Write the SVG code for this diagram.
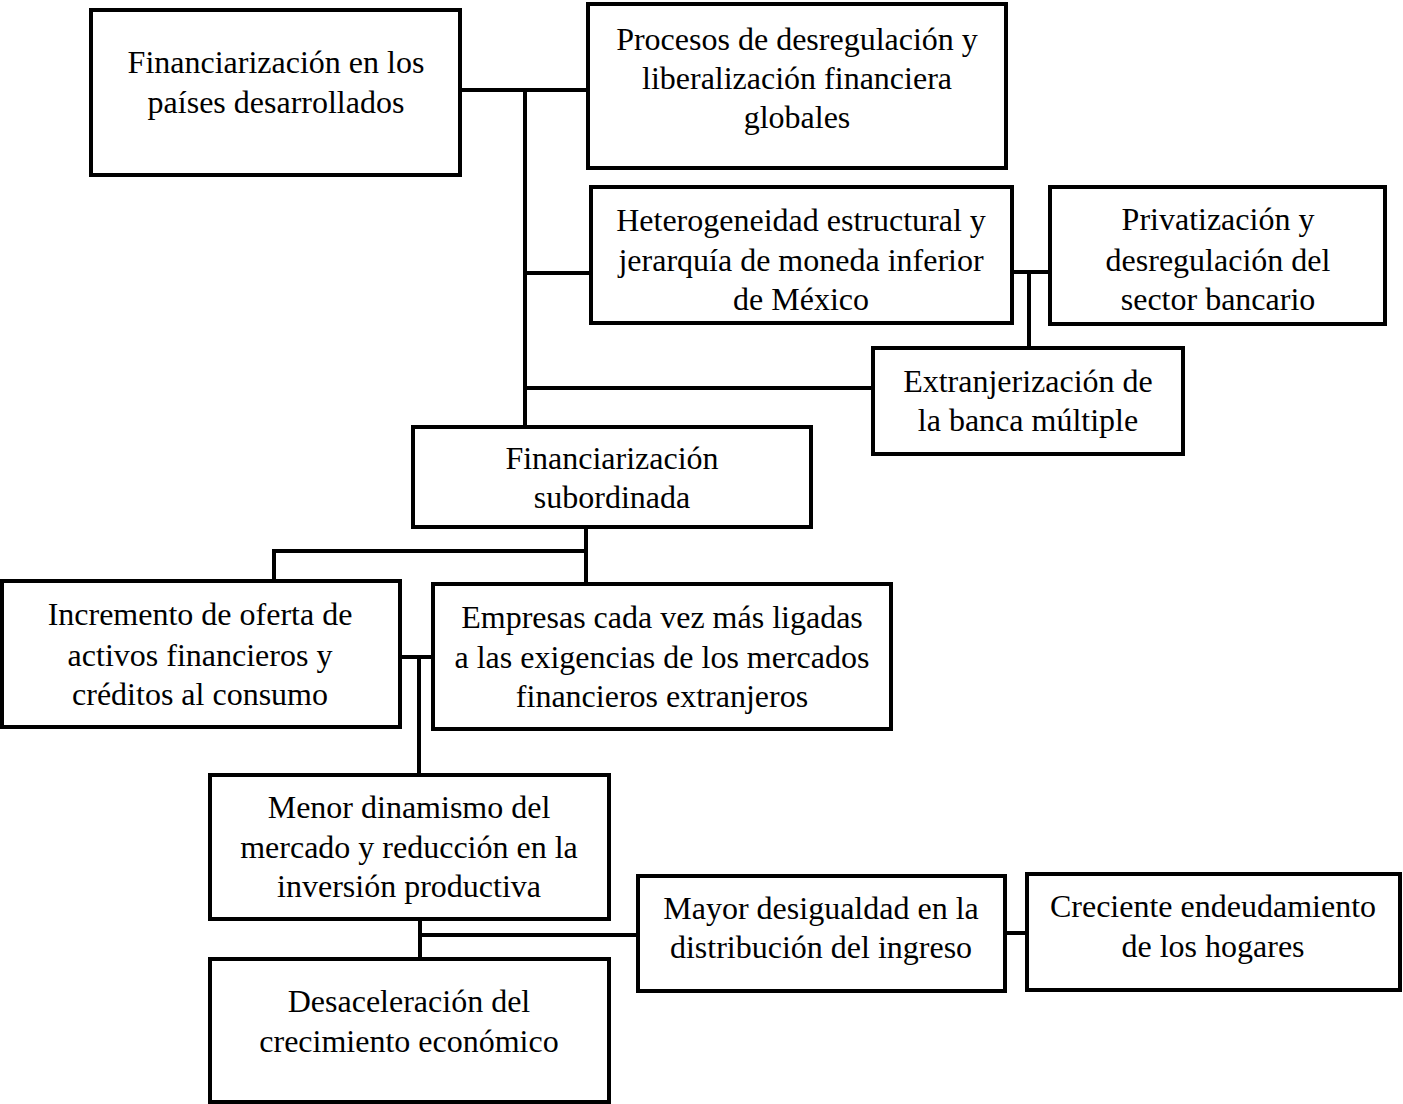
<svg xmlns="http://www.w3.org/2000/svg" width="1403" height="1104" viewBox="0 0 1403 1104">
<style>
.b{fill:#fff;stroke:#000;stroke-width:4}
.c{fill:none;stroke:#000;stroke-width:4}
text{font-family:"Liberation Serif","Times New Roman",serif;font-size:32px;fill:#000;text-anchor:middle}
</style>
<rect width="1403" height="1104" fill="#fff"/>
<g id="connectors">
<path class="c" d="M460 90H589M525 90V427M525 273H590M525 388H873M1012 272H1050M1029 272V348"/>
<path class="c" d="M586 527V583M586 551H274V581M400 657H433M419 657V775"/>
<path class="c" d="M420 919V959M420 935H638M1005 933H1027"/>
</g>
<g id="n1"><rect class="b" x="91" y="10" width="369" height="165"/><text x="276" y="73">Financiarización en los</text><text x="276" y="113">países desarrollados</text></g>
<g id="n2"><rect class="b" x="588" y="4" width="418" height="164"/><text x="797" y="50">Procesos de desregulación y</text><text x="797" y="89">liberalización financiera</text><text x="797" y="128">globales</text></g>
<g id="n3"><rect class="b" x="591" y="187" width="421" height="136"/><text x="801" y="231">Heterogeneidad estructural y</text><text x="801" y="271">jerarquía de moneda inferior</text><text x="801" y="310">de México</text></g>
<g id="n4"><rect class="b" x="1050" y="187" width="335" height="137"/><text x="1218" y="230">Privatización y</text><text x="1218" y="271">desregulación del</text><text x="1218" y="310">sector bancario</text></g>
<g id="n5"><rect class="b" x="873" y="348" width="310" height="106"/><text x="1028" y="392">Extranjerización de</text><text x="1028" y="431">la banca múltiple</text></g>
<g id="n6"><rect class="b" x="413" y="427" width="398" height="100"/><text x="612" y="469">Financiarización</text><text x="612" y="508">subordinada</text></g>
<g id="n7"><rect class="b" x="2" y="581" width="398" height="146"/><text x="200" y="625">Incremento de oferta de</text><text x="200" y="666">activos financieros y</text><text x="200" y="705">créditos al consumo</text></g>
<g id="n8"><rect class="b" x="433" y="584" width="458" height="145"/><text x="662" y="628">Empresas cada vez más ligadas</text><text x="662" y="668">a las exigencias de los mercados</text><text x="662" y="707">financieros extranjeros</text></g>
<g id="n9"><rect class="b" x="210" y="775" width="399" height="144"/><text x="409" y="818">Menor dinamismo del</text><text x="409" y="858">mercado y reducción en la</text><text x="409" y="897">inversión productiva</text></g>
<g id="n10"><rect class="b" x="638" y="876" width="367" height="115"/><text x="821" y="919">Mayor desigualdad en la</text><text x="821" y="958">distribución del ingreso</text></g>
<g id="n11"><rect class="b" x="1027" y="874" width="373" height="116"/><text x="1213" y="917">Creciente endeudamiento</text><text x="1213" y="957">de los hogares</text></g>
<g id="n12"><rect class="b" x="210" y="959" width="399" height="143"/><text x="409" y="1012">Desaceleración del</text><text x="409" y="1052">crecimiento económico</text></g>
</svg>
